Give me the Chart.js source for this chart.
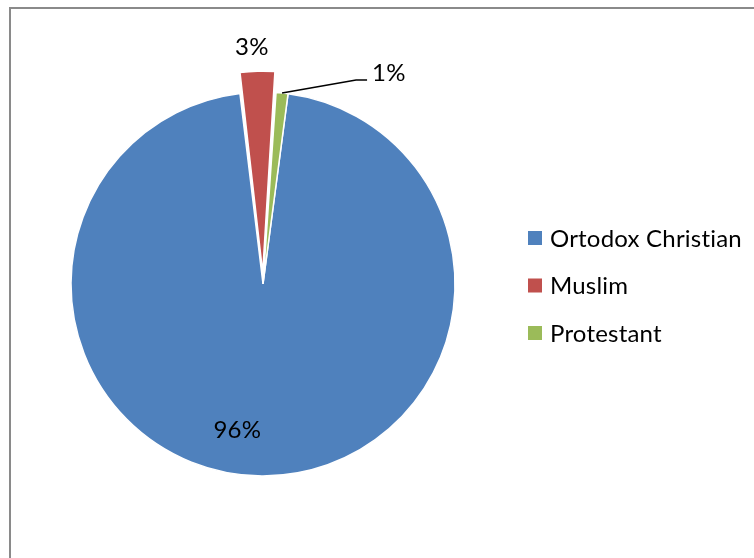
<!DOCTYPE html>
<html>
<head>
<meta charset="utf-8">
<script src="https://cdn.jsdelivr.net/npm/chart.js@4.4.0/dist/chart.umd.min.js"></script>
<style>
  html, body { margin: 0; padding: 0; background: #fff; }
  canvas { display: block; }
</style>
</head>
<body>
<canvas id="c" width="754" height="558"></canvas>
<script>
// Religious affiliation shares
const categories = ['Ortodox Christian', 'Muslim', 'Protestant'];
const shares = [96, 3, 1];
const percentLabels = ['96%', '3%', '1%'];

// Styling (Chart.js moves an arc out by half its offset)
const sliceColors = ['#4F81BD', '#C0504D', '#9BBB59'];
const sliceExplode = [0, 46, 0];
const FONT = 'Lato, "Open Sans", sans-serif';
const FONT_SIZE = 24;

// Gray frame around the chart area
const framePlugin = {
  id: 'frame',
  beforeDraw(chart) {
    const ctx = chart.ctx;
    ctx.save();
    ctx.fillStyle = '#fff';
    ctx.fillRect(0, 0, chart.width, chart.height);
    ctx.strokeStyle = '#8a8a8a';
    ctx.lineWidth = 2;
    ctx.strokeRect(10, 8, chart.width + 50, chart.height + 50);
    ctx.restore();
  }
};

function setTextStyle(ctx) {
  ctx.font = `${FONT_SIZE}px ${FONT}`;
  ctx.fillStyle = '#000';
  // a tiny letter spacing keeps "ti" from being joined into a ligature
  if ('letterSpacing' in ctx) ctx.letterSpacing = '0.2px';
}

// Legend drawn at the right, one row per category
const sideLegend = {
  id: 'sideLegend',
  afterDraw(chart, args, opts) {
    const ctx = chart.ctx;
    const ds = chart.data.datasets[0];
    ctx.save();
    setTextStyle(ctx);
    ctx.textBaseline = 'middle';
    ctx.textAlign = 'left';
    chart.data.labels.forEach((label, i) => {
      const y = opts.top + i * opts.rowGap;
      ctx.fillStyle = ds.backgroundColor[i];
      ctx.fillRect(opts.left, y - opts.box / 2, opts.box, opts.box);
      ctx.fillStyle = '#000';
      ctx.fillText(label, opts.left + opts.box + 8, y + 1);
    });
    ctx.restore();
  }
};

// Percentage labels placed from each arc's geometry
const sliceLabels = {
  id: 'sliceLabels',
  afterDatasetsDraw(chart, args, opts) {
    const ctx = chart.ctx;
    const meta = chart.getDatasetMeta(0);
    const ds = chart.data.datasets[0];
    ctx.save();
    setTextStyle(ctx);
    ctx.textBaseline = 'middle';
    meta.data.forEach((arc, i) => {
      const p = arc.getProps(['x', 'y', 'startAngle', 'endAngle', 'outerRadius'], true);
      const mid = (p.startAngle + p.endAngle) / 2;
      const off = (ds.offset[i] || 0) / 2;
      const cfg = opts.place[i];
      const text = percentLabels[i];
      if (cfg.leader) {
        const ex = p.x + Math.cos(mid) * p.outerRadius;
        const ey = p.y + Math.sin(mid) * p.outerRadius;
        const kx = ex + cfg.leader[0];
        const ky = ey + cfg.leader[1];
        const hx = kx + cfg.leader[2];
        ctx.strokeStyle = '#000';
        ctx.lineWidth = 1.5;
        ctx.beginPath();
        ctx.moveTo(ex, ey);
        ctx.lineTo(kx, ky);
        ctx.lineTo(hx, ky);
        ctx.stroke();
        ctx.textAlign = 'left';
        ctx.fillText(text, hx + 5, ky - 7);
      } else {
        const d = p.outerRadius * cfg.r + off + (cfg.extra || 0);
        const x = p.x + Math.cos(mid) * d + (cfg.dx || 0);
        const y = p.y + Math.sin(mid) * d + (cfg.dy || 0);
        ctx.textAlign = 'center';
        ctx.fillText(text, x, y);
      }
    });
    ctx.restore();
  }
};

new Chart(document.getElementById('c'), {
  type: 'pie',
  data: {
    labels: categories,
    datasets: [{
      data: shares,
      backgroundColor: sliceColors,
      borderColor: '#ffffff',
      borderWidth: 1.5,
      offset: sliceExplode,
      hoverOffset: 0
    }]
  },
  options: {
    responsive: false,
    animation: false,
    events: [],
    rotation: 7.5,
    radius: 192,
    layout: { padding: { left: 20, right: 248, top: 40, bottom: 30 } },
    plugins: {
      legend: { display: false },
      tooltip: { enabled: false },
      sideLegend: { left: 528, top: 238, rowGap: 47.5, box: 14 },
      sliceLabels: {
        place: [
          { r: 0.76, dx: -25 },
          { r: 1, extra: 22, dx: -5 },
          { leader: [74, -13, 11] }
        ]
      }
    }
  },
  plugins: [framePlugin, sideLegend, sliceLabels]
});
</script>
</body>
</html>
